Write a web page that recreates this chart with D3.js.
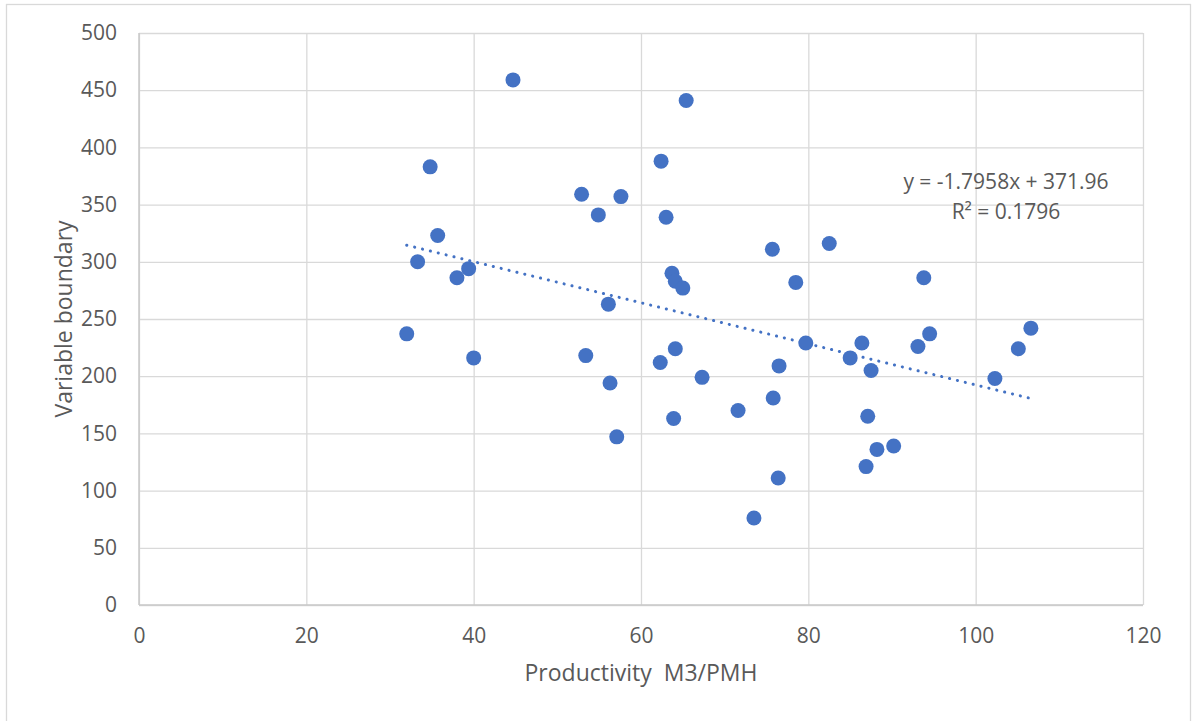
<!DOCTYPE html>
<html>
<head>
<meta charset="utf-8">
<script src="https://cdn.jsdelivr.net/npm/d3@7"></script>
<style>
	body { margin: 0; background: #fff; }
	svg { display: block; font-family: "Open Sans", sans-serif; }
</style>
</head>
<body>
<svg id="chart" width="1193" height="721"></svg>
<script>
// Productivity (M3/PMH) vs variable boundary
var productivity = [
	32.0, 33.3, 34.8, 35.7, 38.0, 39.4, 40.0, 44.7, 52.9, 53.4,
	54.9, 56.1, 56.3, 57.1, 57.6, 62.4, 62.3, 63.0, 63.7, 64.1,
	65.0, 63.9, 64.1, 65.4, 67.3, 71.6, 73.5, 75.7, 75.8, 76.5,
	76.4, 78.5, 79.7, 82.5, 85.0, 86.4, 87.5, 86.9, 87.1, 88.2,
	90.2, 93.1, 93.8, 94.5, 102.3, 105.1, 106.6
];
var boundary = [
	237, 300, 383, 323, 286, 294, 216, 459, 359, 218,
	341, 263, 194, 147, 357, 388, 212, 339, 290, 283,
	277, 163, 224, 441, 199, 170, 76, 311, 181, 209,
	111, 282, 229, 316, 216, 229, 205, 121, 165, 136,
	139, 226, 286, 237, 198, 224, 242
];

var xTicks = [0, 20, 40, 60, 80, 100, 120];
var yTicks = [0, 50, 100, 150, 200, 250, 300, 350, 400, 450, 500];

// linear trendline as printed on the chart
var trendSlope = -1.7958;
var trendIntercept = 371.96;
var trendLabels = ["y = -1.7958x + 371.96", "R² = 0.1796"];

var xTitle = "Productivity  M3/PMH";
var yTitle = "Variable boundary";

var BLUE = "#4472c4";
var GRID = "#d9d9d9";
var TEXT = "#595959";

var svg = d3.select("#chart"),
	margin = { top: 33, right: 50, bottom: 116, left: 139 },
	width = +svg.attr("width") - margin.left - margin.right,
	height = +svg.attr("height") - margin.top - margin.bottom;

// outer chart border
svg.append("rect")
	.attr("x", 6.5).attr("y", 4.5)
	.attr("width", 1184).attr("height", 730)
	.attr("fill", "none")
	.attr("stroke", GRID)
	.attr("stroke-width", 1.3);

var g = svg.append("g").attr("transform", "translate(" + margin.left + "," + margin.top + ")");

var x = d3.scaleLinear().domain([0, 120]).range([0, width]);
var y = d3.scaleLinear().domain([0, 500]).range([height, 0]);

// gridlines
g.append("g")
	.call(d3.axisLeft(y).tickValues(yTicks).tickSize(-width).tickFormat(""))
	.call(function(a) {
		a.select(".domain").remove();
		a.selectAll("line").attr("stroke", GRID).attr("stroke-width", 1.3);
	});

g.append("g")
	.attr("transform", "translate(0," + height + ")")
	.call(d3.axisBottom(x).tickValues(xTicks).tickSize(-height).tickFormat(""))
	.call(function(a) {
		a.select(".domain").remove();
		a.selectAll("line").attr("stroke", GRID).attr("stroke-width", 1.3);
	});

// axis lines
g.append("line")
	.attr("x1", 0).attr("x2", width)
	.attr("y1", y(0)).attr("y2", y(0))
	.attr("stroke", "#c8c8c8").attr("stroke-width", 1.5);
g.append("line")
	.attr("x1", x(0)).attr("x2", x(0))
	.attr("y1", 0).attr("y2", height)
	.attr("stroke", "#c8c8c8").attr("stroke-width", 1.5);

// tick labels
g.append("g")
	.call(d3.axisLeft(y).tickValues(yTicks).tickSize(0).tickPadding(22))
	.call(function(a) {
		a.select(".domain").remove();
		a.selectAll("text")
			.attr("fill", TEXT)
			.attr("font-size", 21)
			.attr("font-family", "Open Sans, sans-serif");
	});

g.append("g")
	.attr("transform", "translate(0," + height + ")")
	.call(d3.axisBottom(x).tickValues(xTicks).tickSize(0).tickPadding(23))
	.call(function(a) {
		a.select(".domain").remove();
		a.selectAll("text")
			.attr("fill", TEXT)
			.attr("font-size", 21)
			.attr("font-family", "Open Sans, sans-serif");
	});

// trendline over the data extent
var xExt = d3.extent(productivity);
g.append("line")
	.attr("x1", x(xExt[0])).attr("y1", y(trendSlope * xExt[0] + trendIntercept))
	.attr("x2", x(xExt[1])).attr("y2", y(trendSlope * xExt[1] + trendIntercept))
	.attr("stroke", BLUE)
	.attr("stroke-width", 3)
	.attr("stroke-linecap", "round")
	.attr("stroke-dasharray", "0.1,8");

// points
var points = productivity.map(function(v, i) { return [v, boundary[i]]; });

g.selectAll("circle.pt")
	.data(points)
	.enter().append("circle")
		.attr("class", "pt")
		.attr("cx", function(d) { return x(d[0]); })
		.attr("cy", function(d) { return y(d[1]); })
		.attr("r", 7.5)
		.attr("fill", BLUE);

// trendline label
var lab = svg.append("text")
	.attr("x", 1006)
	.attr("y", 189)
	.attr("text-anchor", "middle")
	.attr("fill", TEXT)
	.attr("font-size", 21);
lab.selectAll("tspan")
	.data(trendLabels)
	.enter().append("tspan")
		.attr("x", 1006)
		.attr("dy", function(d, i) { return i == 0 ? 0 : 30; })
		.text(function(d) { return d; });

// axis titles
svg.append("text")
	.attr("x", margin.left + width / 2)
	.attr("y", 681)
	.attr("text-anchor", "middle")
	.attr("fill", TEXT)
	.attr("font-size", 23)
	.style("white-space", "pre")
	.text(xTitle);

svg.append("text")
	.attr("transform", "translate(72," + (margin.top + height / 2) + ") rotate(-90)")
	.attr("text-anchor", "middle")
	.attr("fill", TEXT)
	.attr("font-size", 23)
	.text(yTitle);
</script>
</body>
</html>
